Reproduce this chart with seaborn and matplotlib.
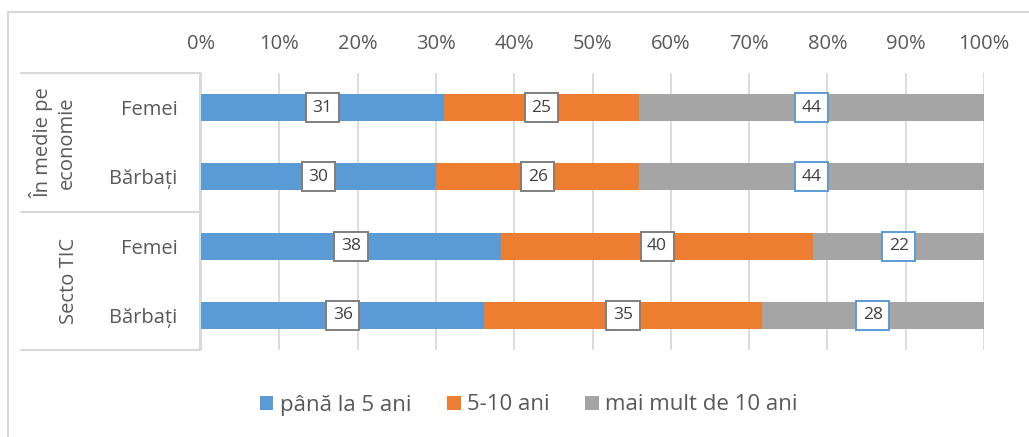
import matplotlib
matplotlib.use("Agg")
import matplotlib.pyplot as plt
import seaborn as sns
import pandas as pd
import numpy as np
from matplotlib.patches import Rectangle
from matplotlib.lines import Line2D

# ---- data ----
groups = ["În medie pe\neconomie", "Secto TIC"]
genders = ["Femei", "Bărbați", "Femei", "Bărbați"]
series = ["până la 5 ani", "5-10 ani", "mai mult de 10 ani"]
pana_5 = [31.0, 30.0, 38.3, 36.2]
ani_5_10 = [25.0, 26.0, 39.9, 35.4]
peste_10 = [44.0, 44.0, 21.8, 28.4]
xticks = [0, 10, 20, 30, 40, 50, 60, 70, 80, 90, 100]

colors = ["#5B9BD5", "#ED7D31", "#A5A5A5"]
label_edges = ["#7F7F7F", "#7F7F7F", "#5B9BD5"]
text_color = "#595959"
grid_color = "#D9D9D9"

sns.set_theme(style="white")
plt.rcParams["font.family"] = ["Open Sans", "DejaVu Sans"]

W, H = 1029, 437
fig = plt.figure(figsize=(W / 100, H / 100), dpi=100)
ax = fig.add_axes([201 / W, 1 - 350 / H, 783 / W, 277 / H])

rows = [f"r{i}" for i in range(len(genders))]
vals = np.array([pana_5, ani_5_10, peste_10])
cum = np.cumsum(vals, axis=0)
df = pd.DataFrame({
    "row": rows * 3,
    "series": np.repeat(series, len(rows)),
    "value": vals.ravel(),
    "cum": cum.ravel(),
})

for k in [2, 1, 0]:
    sub = df[df["series"] == series[k]]
    sns.barplot(data=sub, x="cum", y="row", order=rows, color=colors[k],
                width=0.39, ax=ax, orient="h", saturation=1, errorbar=None,
                edgecolor="none", linewidth=0, zorder=2)

# data labels
for k in range(3):
    sub = df[df["series"] == series[k]].reset_index(drop=True)
    for i, r in sub.iterrows():
        center = r["cum"] - r["value"] / 2
        ax.text(center, i, f"{r['value']:.0f}", ha="center", va="center",
                fontsize=12.5, color="#404040", zorder=5,
                bbox=dict(boxstyle="square,pad=0.38", fc="white",
                          ec=label_edges[k], lw=1.4))

ax.set_xlim(0, 100)
ax.set_ylim(len(rows) - 0.5, -0.5)
ax.set_xticks(xticks)
ax.set_xticklabels([f"{t}%" for t in xticks])
ax.xaxis.tick_top()
ax.set_yticks(range(len(rows)))
ax.set_yticklabels(genders)
ax.set_xlabel("")
ax.set_ylabel("")
ax.grid(axis="x", color=grid_color, lw=1.3, zorder=0)
ax.grid(axis="y", visible=False)
ax.set_axisbelow(True)
for s in ax.spines.values():
    s.set_visible(False)
ax.tick_params(axis="x", length=0, pad=14, labelsize=14.5, labelcolor=text_color)
ax.tick_params(axis="y", length=0, pad=17, labelsize=14.5, labelcolor=text_color)

# category axis boxes
lc = grid_color
for yy in [73, 212, 350]:
    fig.add_artist(Line2D([21 / W, 200 / W], [1 - yy / H, 1 - yy / H],
                          transform=fig.transFigure, color=lc, lw=1.5))
fig.add_artist(Line2D([200 / W, 200 / W], [1 - 73 / H, 1 - 350 / H],
                      transform=fig.transFigure, color=lc, lw=1.5))

# group labels
fig.text(53 / W, 1 - 143 / H, groups[0], rotation=90, ha="center", va="center",
         multialignment="center", fontsize=14.5, color=text_color, linespacing=1.25)
fig.text(69 / W, 1 - 281 / H, groups[1], rotation=90, ha="center", va="center",
         fontsize=14.5, color=text_color)

# outer chart border (cropped on right/bottom)
fig.add_artist(Rectangle((8 / W, -0.1), 1.2, 1 - 12 / H + 0.1,
                         transform=fig.transFigure, fill=False,
                         ec=grid_color, lw=1.5))

# legend
handles = [Rectangle((0, 0), 1, 1, fc=c, ec="none") for c in colors]
fig.legend(handles, series, loc="center", bbox_to_anchor=(529 / W, 1 - 405 / H),
           ncol=3, frameon=False, fontsize=16, labelcolor=text_color,
           handlelength=0.6, handleheight=0.6, handletextpad=0.3,
           columnspacing=1.6)

fig.savefig("out.png", dpi=100)
